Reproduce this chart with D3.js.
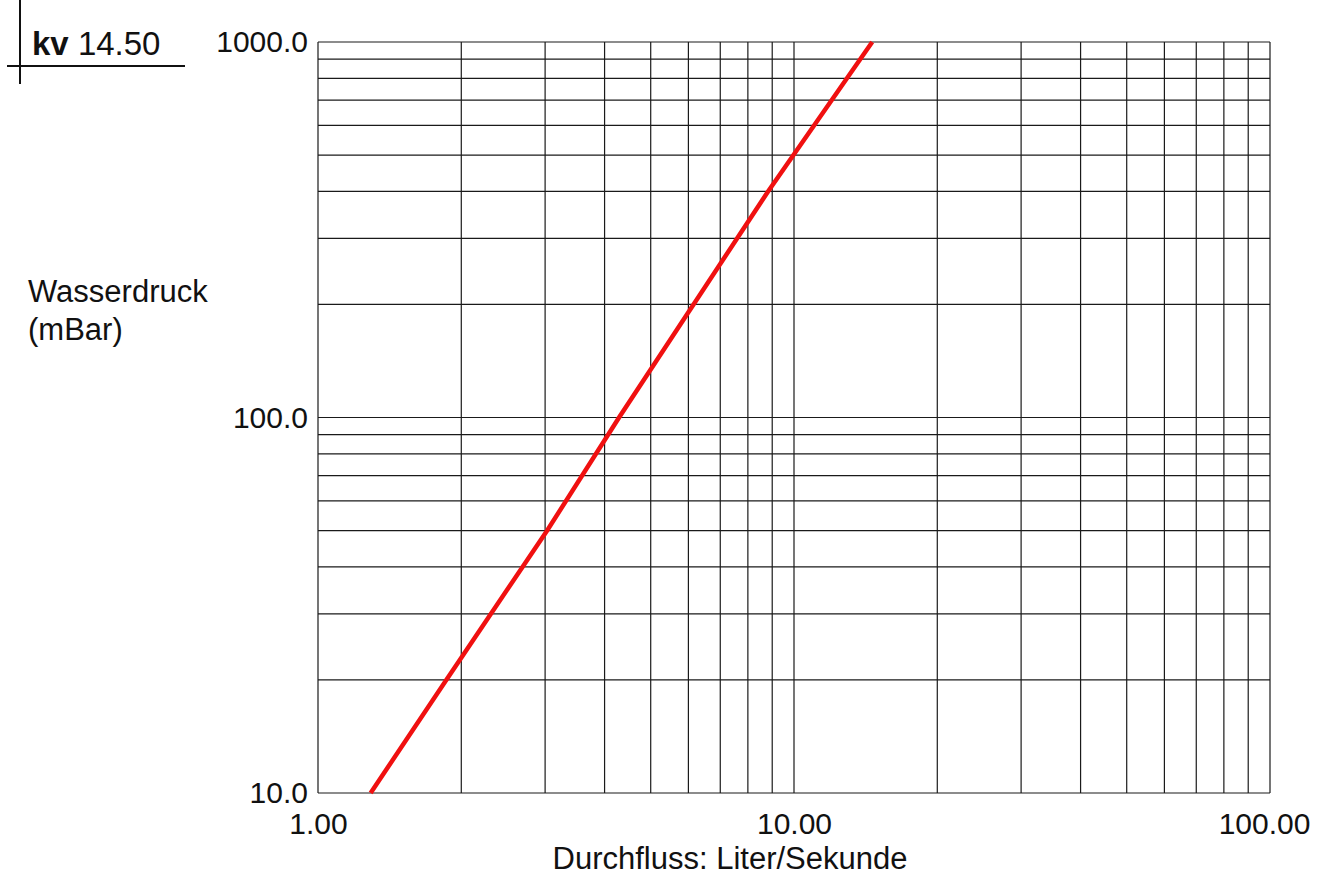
<!DOCTYPE html>
<html>
<head>
<meta charset="utf-8">
<script src="https://cdn.jsdelivr.net/npm/d3@7"></script>
<style>
  body { margin: 0; background: #fff; }
  svg text { font-family: "Liberation Sans", Arial, sans-serif; fill: #111; }
</style>
</head>
<body>
<div id="chart"></div>
<script>
// values
const kvValue = "14.50";
const flow = [1.29, 1.86, 3.03, 4.29, 8.82, 14.6];       // Liter/Sekunde
const pressure = [10, 20, 50, 100, 400, 1000];           // mBar
const xTicks = [1, 10, 100];
const yTicks = [10, 100, 1000];
const xGrid = [1, 2, 3, 4, 5, 6, 7, 8, 9, 10, 20, 30, 40, 50, 60, 70, 80, 90, 100];
const yGrid = [10, 20, 30, 40, 50, 60, 70, 80, 90, 100, 200, 300, 400, 500, 600, 700, 800, 900, 1000];

const svgWidth = 1333;
const svgHeight = 878;
const margin = { top: 42, right: 63, bottom: 85, left: 318 };
const width = svgWidth - margin.left - margin.right;
const height = svgHeight - margin.top - margin.bottom;

const svg = d3.select("#chart")
  .append("svg")
  .attr("width", svgWidth)
  .attr("height", svgHeight);

const chartGroup = svg.append("g")
  .attr("transform", `translate(${margin.left},${margin.top})`);

const xScale = d3.scaleLog().domain([1, 100]).range([0, width]);
const yScale = d3.scaleLog().domain([10, 1000]).range([height, 0]);

// grid
chartGroup.append("g")
  .selectAll("line")
  .data(xGrid)
  .enter()
  .append("line")
  .attr("x1", d => xScale(d)).attr("x2", d => xScale(d))
  .attr("y1", 0).attr("y2", height)
  .attr("stroke", "#1a1a1a").attr("stroke-width", 1.2);

chartGroup.append("g")
  .selectAll("line")
  .data(yGrid)
  .enter()
  .append("line")
  .attr("x1", 0).attr("x2", width)
  .attr("y1", d => yScale(d)).attr("y2", d => yScale(d))
  .attr("stroke", "#1a1a1a").attr("stroke-width", 1.2);

// axes (labels only)
const bottomAxis = d3.axisBottom(xScale).tickValues(xTicks).tickSize(0).tickPadding(20)
  .tickFormat(d3.format(".2f"));
const leftAxis = d3.axisLeft(yScale).tickValues(yTicks).tickSize(0).tickPadding(10)
  .tickFormat(d3.format(".1f"));

const xAxis = chartGroup.append("g")
  .attr("transform", `translate(0, ${height})`)
  .call(bottomAxis);
const yAxis = chartGroup.append("g").call(leftAxis);

[xAxis, yAxis].forEach(a => {
  a.select(".domain").remove();
  a.selectAll("text").attr("font-size", "30px").attr("fill", "#111")
    .attr("font-family", "Liberation Sans, Arial, sans-serif");
});
// last x label sits a bit left of its tick in the reference
xAxis.selectAll("text").attr("dx", d => d === 100 ? "-6" : "0");

// kv line
const line = d3.line()
  .x((d, i) => xScale(flow[i]))
  .y(d => yScale(d));

chartGroup.append("path")
  .datum(pressure)
  .attr("d", line)
  .attr("fill", "none")
  .attr("stroke", "#f01010")
  .attr("stroke-width", 4.5);

// axis titles
svg.append("text")
  .attr("x", 730).attr("y", 869)
  .attr("text-anchor", "middle")
  .attr("font-size", "31px")
  .text("Durchfluss: Liter/Sekunde");

svg.append("text")
  .attr("x", 28).attr("y", 302)
  .attr("font-size", "31px")
  .text("Wasserdruck");
svg.append("text")
  .attr("x", 28).attr("y", 340)
  .attr("font-size", "31px")
  .text("(mBar)");

// kv label
svg.append("line").attr("x1", 20).attr("x2", 20).attr("y1", 0).attr("y2", 84)
  .attr("stroke", "#111").attr("stroke-width", 2);
svg.append("line").attr("x1", 7).attr("x2", 185).attr("y1", 66).attr("y2", 66)
  .attr("stroke", "#111").attr("stroke-width", 2);
const kvText = svg.append("text")
  .attr("x", 32).attr("y", 55)
  .attr("font-size", "33px");
kvText.append("tspan").attr("font-weight", "bold").text("kv");
kvText.append("tspan").text(" " + kvValue);
</script>
</body>
</html>
